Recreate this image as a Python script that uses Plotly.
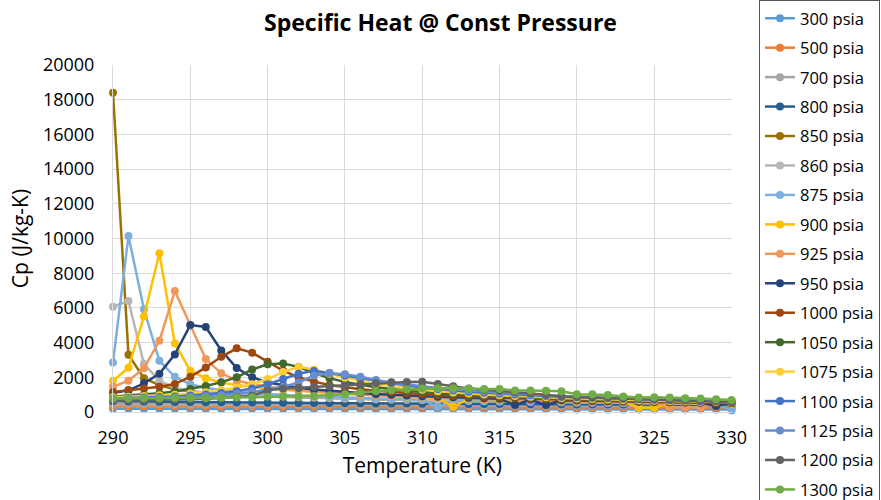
import plotly.graph_objects as go

# Temperature (K)
temps = [290, 291, 292, 293, 294, 295, 296, 297, 298, 299,
         300, 301, 302, 303, 304, 305, 306, 307, 308, 309,
         310, 311, 312, 313, 314, 315, 316, 317, 318, 319,
         320, 321, 322, 323, 324, 325, 326, 327, 328, 329, 330]

series_names = ["300 psia", "500 psia", "700 psia", "800 psia", "850 psia", "860 psia",
                "875 psia", "900 psia", "925 psia", "950 psia", "1000 psia", "1050 psia",
                "1075 psia", "1100 psia", "1125 psia", "1200 psia", "1300 psia"]

series_colors = ["#5B9BD5", "#ED7D31", "#A5A5A5", "#255E91", "#997300", "#B7B7B7",
                 "#7CAFDD", "#FFC000", "#F1975A", "#264478", "#9E480E", "#43682B",
                 "#FFCD33", "#4472C4", "#698ED0", "#636363", "#70AD47"]

cp_300 = [185, 183, 182, 180, 179, 178, 176, 175, 174, 172, 171, 170, 169, 168, 167, 165, 164, 163, 162, 161,
          160, 159, 158, 157, 156, 155, 154, 153, 152, 151, 150, 149, 148, 147, 146, 145, 144, 143, 142, 141, 140]
cp_500 = [320, 318, 315, 312, 310, 308, 305, 303, 300, 298, 296, 294, 292, 290, 288, 286, 284, 282, 280, 278,
          276, 275, 273, 271, 270, 268, 266, 265, 263, 262, 260, 258, 257, 255, 254, 252, 251, 250, 248, 247, 245]
cp_700 = [460, 455, 450, 445, 440, 436, 432, 428, 424, 420, 416, 412, 408, 404, 400, 397, 394, 391, 388, 385,
          382, 379, 376, 373, 370, 368, 366, 364, 362, 360, 358, 356, 354, 352, 350, 348, 346, 344, 342, 340, 338]
cp_800 = [620, 610, 600, 590, 580, 572, 565, 558, 550, 543, 536, 530, 524, 518, 512, 506, 500, 495, 490, 485,
          480, 475, 470, 466, 462, 458, 454, 450, 446, 442, 438, 434, 430, 426, 422, 418, 415, 412, 408, 405, 400]
cp_850 = [18400, 3300, 1950, 1550, 1300, 1180, 1100, 1040, 990, 950, 910, 880, 850, 820, 795, 770, 750, 730, 710, 690,
          675, 660, 645, 630, 615, 600, 590, 578, 566, 555, 545, 535, 525, 515, 505, 496, 487, 478, 470, 462, 455]
cp_860 = [6070, 6400, 2780, 1800, 1400, 1230, 1130, 1060, 1000, 960, 920, 890, 860, 830, 805, 780, 760, 740, 720, 700,
          685, 670, 655, 640, 625, 610, 598, 586, 574, 563, 552, 542, 532, 522, 512, 503, 494, 485, 477, 469, 460]
cp_875 = [2850, 10150, 5920, 2950, 2030, 1600, 1380, 1250, 1150, 1080, 1020, 970, 930, 890, 860, 830, 800, 775, 750, 730,
          710, 300, 670, 655, 640, 625, 610, 595, 582, 570, 558, 546, 535, 524, 514, 504, 494, 485, 476, 467, 90]
cp_900 = [1800, 2550, 5500, 9150, 3950, 2380, 1950, 1700, 1550, 1440, 1350, 1280, 1210, 1150, 1100, 1050, 1000, 960, 920, 885,
          850, 820, 300, 765, 740, 715, 695, 675, 655, 637, 620, 604, 588, 573, 250, 250, 530, 517, 505, 493, 480]
cp_925 = [1450, 1800, 2520, 4100, 6970, 5000, 3050, 2230, 1820, 1600, 1450, 1340, 1250, 1180, 1120, 1060, 1010, 970, 930, 895,
          860, 830, 800, 775, 750, 725, 705, 685, 665, 646, 628, 611, 595, 580, 565, 551, 260, 260, 260, 500, 488]
cp_950 = [1100, 1250, 1650, 2200, 3320, 5010, 4900, 3550, 2530, 2000, 1700, 1530, 1400, 1300, 1220, 1150, 1090, 1040, 990, 950,
          910, 875, 845, 815, 790, 765, 400, 718, 400, 677, 658, 640, 623, 607, 592, 578, 564, 551, 538, 350, 515]
cp_1000 = [1150, 1250, 1350, 1450, 1620, 2030, 2570, 3180, 3670, 3420, 2900, 2380, 2000, 1750, 1560, 1420, 1310, 1220, 1150, 1090,
           1035, 985, 940, 900, 862, 828, 796, 767, 740, 715, 692, 670, 650, 631, 613, 596, 580, 565, 551, 538, 525]
cp_1050 = [900, 950, 1000, 1080, 1180, 1330, 1500, 1720, 2000, 2450, 2750, 2790, 2600, 2250, 1950, 1730, 1560, 1430, 1320, 1230,
           1150, 1085, 1025, 975, 930, 890, 855, 822, 792, 765, 740, 716, 694, 673, 653, 635, 618, 602, 586, 572, 558]
cp_1075 = [850, 880, 920, 960, 1000, 1060, 1140, 1250, 1400, 1600, 1900, 2300, 2600, 2450, 2200, 1980, 1780, 1610, 1480, 1370,
           1280, 1200, 1130, 1070, 1015, 965, 920, 880, 843, 809, 778, 749, 722, 697, 674, 652, 632, 613, 595, 578, 562]
cp_1100 = [780, 800, 830, 860, 900, 950, 1010, 1090, 1200, 1350, 1600, 1900, 2200, 2370, 2250, 2100, 1950, 1800, 1650, 1520,
           1410, 1320, 1240, 1170, 1110, 1055, 1005, 960, 920, 883, 849, 818, 789, 762, 737, 714, 692, 672, 653, 636, 620]
cp_1125 = [720, 740, 760, 790, 820, 860, 910, 970, 1050, 1150, 1280, 1450, 1700, 2100, 2230, 2170, 2030, 1840, 1700, 1580,
           1480, 1390, 1310, 1240, 1175, 1115, 1060, 1010, 965, 923, 885, 850, 818, 788, 760, 734, 710, 688, 667, 648, 630]
cp_1200 = [650, 665, 680, 700, 720, 740, 770, 810, 860, 930, 1250, 1350, 1400, 1450, 1480, 1520, 1600, 1660, 1710, 1730,
           1740, 1620, 1480, 1350, 1280, 1220, 1150, 1080, 1000, 900, 870, 840, 810, 780, 750, 720, 690, 660, 630, 600, 560]
cp_1300 = [780, 780, 790, 790, 800, 800, 810, 820, 830, 850, 880, 900, 910, 920, 960, 1020, 1130, 1200, 1260, 1300,
           1350, 1370, 1370, 1340, 1330, 1330, 1240, 1240, 1230, 1200, 1030, 1020, 980, 890, 840, 850, 840, 790, 780, 730, 690]

all_series = [cp_300, cp_500, cp_700, cp_800, cp_850, cp_860, cp_875, cp_900, cp_925, cp_950,
              cp_1000, cp_1050, cp_1075, cp_1100, cp_1125, cp_1200, cp_1300]

x_ticks = [290, 295, 300, 305, 310, 315, 320, 325, 330]
y_ticks = [0, 2000, 4000, 6000, 8000, 10000, 12000, 14000, 16000, 18000, 20000]

FONT = "Open Sans"
fig = go.Figure()
for i, (name, color, vals) in enumerate(zip(series_names, series_colors, all_series)):
    fig.add_trace(go.Scatter(
        x=temps, y=vals, name=name, mode="lines+markers",
        line=dict(color=color, width=2.5),
        marker=dict(color=color, size=8),
        cliponaxis=False,
        legendgroup=f"g{i}",
    ))

fig.update_layout(
    width=881, height=500,
    margin=dict(l=113, r=144, t=65, b=88),
    paper_bgcolor="white", plot_bgcolor="white",
    font=dict(family=FONT, color="#404040"),
    title=dict(text="<b>Specific Heat @ Const Pressure</b>", x=0.5, xref="container",
               y=0.955, yref="container", yanchor="middle",
               font=dict(family=FONT, size=23, color="#000000")),
    showlegend=True,
    legend=dict(x=759 / 881, xref="container", xanchor="left",
                y=1.0, yref="container", yanchor="top",
                bordercolor="#555555", borderwidth=1, bgcolor="white",
                font=dict(family=FONT, size=16.5, color="#000000"),
                tracegroupgap=5, maxheight=700),
)
fig.update_xaxes(range=[290, 330], tickvals=x_ticks, tickformat="d", showgrid=True, gridcolor="#D9D9D9", gridwidth=1,
                 zeroline=False, showline=True, linecolor="#D9D9D9", ticks="",
                 tickfont=dict(family=FONT, size=18, color="#000000"), ticklabelstandoff=9,
                 title=dict(text="Temperature (K)", font=dict(family=FONT, size=21, color="#000000"), standoff=10))
fig.update_yaxes(range=[0, 20000], tickvals=y_ticks, tickformat="d", showgrid=True, gridcolor="#D9D9D9", gridwidth=1,
                 zeroline=False, showline=True, linecolor="#D9D9D9", ticks="",
                 tickfont=dict(family=FONT, size=18, color="#000000"), ticklabelstandoff=14,
                 title=dict(text="Cp (J/kg-K)", font=dict(family=FONT, size=21, color="#000000"), standoff=8))

fig.write_html("out.html")
